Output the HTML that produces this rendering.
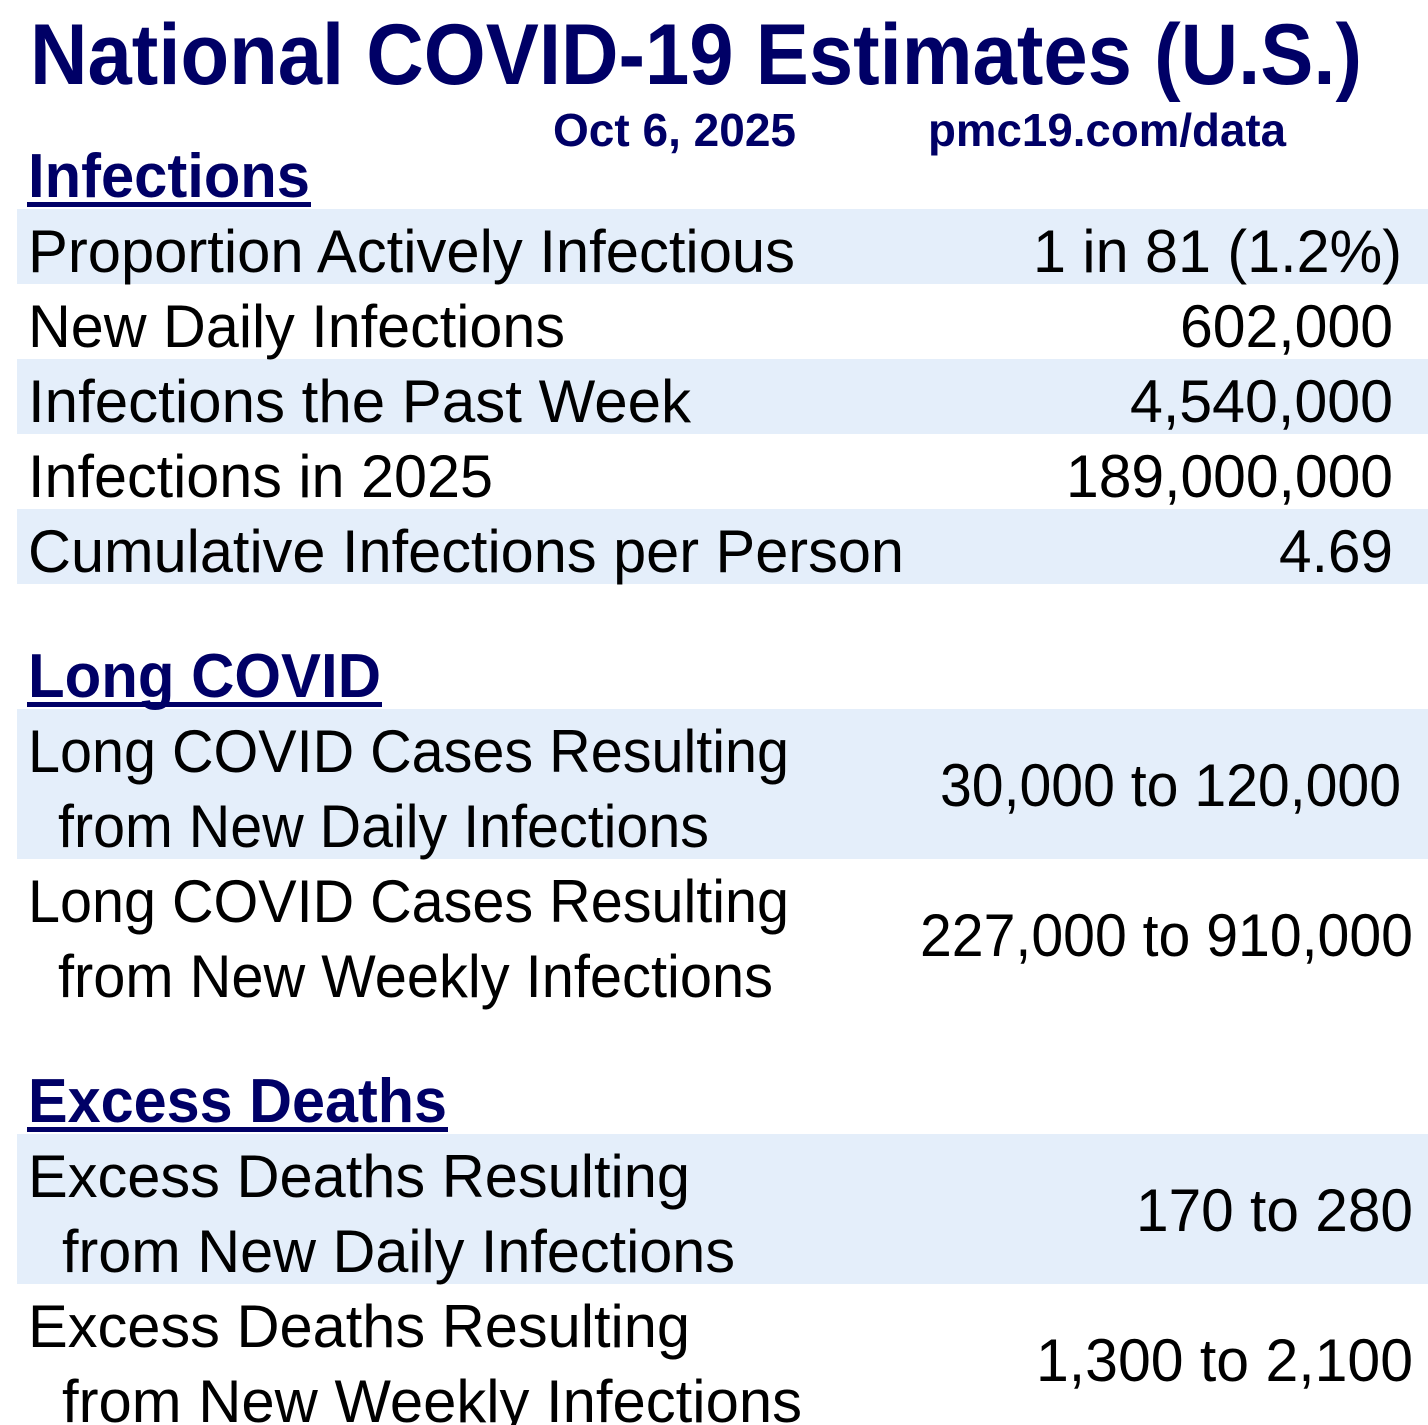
<!DOCTYPE html>
<html><head><meta charset="utf-8"><style>html,body{margin:0;padding:0;background:#fff}svg{display:block}</style></head>
<body>
<svg width="1428" height="1425" viewBox="0 0 1428 1425" xmlns="http://www.w3.org/2000/svg" font-family="Liberation Sans, Arial, sans-serif">
<g fill="#e4eefa">
<rect x="17" y="209" width="1411" height="75"/>
<rect x="17" y="359" width="1411" height="75"/>
<rect x="17" y="509" width="1411" height="75"/>
<rect x="17" y="709" width="1411" height="150"/>
<rect x="17" y="1134" width="1411" height="150"/>
</g>
<g fill="#000066" font-weight="bold">
<text x="30" y="84" font-size="86" textLength="1332" lengthAdjust="spacingAndGlyphs">National COVID-19 Estimates (U.S.)</text>
<text x="553" y="146" font-size="46" textLength="243" lengthAdjust="spacingAndGlyphs">Oct 6, 2025</text>
<text x="928" y="146" font-size="46" textLength="358" lengthAdjust="spacingAndGlyphs">pmc19.com/data</text>
<text x="28" y="197" font-size="62" textLength="282" lengthAdjust="spacingAndGlyphs">Infections</text>
<rect x="27" y="202" width="284" height="5"/>
<text x="28" y="697" font-size="62" textLength="353" lengthAdjust="spacingAndGlyphs">Long COVID</text>
<rect x="27" y="702" width="355" height="5"/>
<text x="28" y="1122" font-size="62" textLength="419" lengthAdjust="spacingAndGlyphs">Excess Deaths</text>
<rect x="27" y="1127" width="421" height="5"/>
</g>
<g fill="#000" font-size="60" lengthAdjust="spacingAndGlyphs">
<text x="28" y="272" textLength="767" lengthAdjust="spacingAndGlyphs">Proportion Actively Infectious</text>
<text x="1033" y="272" textLength="369" lengthAdjust="spacingAndGlyphs">1 in 81 (1.2%)</text>
<text x="28" y="347" textLength="537" lengthAdjust="spacingAndGlyphs">New Daily Infections</text>
<text x="1180" y="347" textLength="213" lengthAdjust="spacingAndGlyphs">602,000</text>
<text x="28" y="422" textLength="663" lengthAdjust="spacingAndGlyphs">Infections the Past Week</text>
<text x="1130" y="422" textLength="263" lengthAdjust="spacingAndGlyphs">4,540,000</text>
<text x="28" y="497" textLength="465" lengthAdjust="spacingAndGlyphs">Infections in 2025</text>
<text x="1066" y="497" textLength="327" lengthAdjust="spacingAndGlyphs">189,000,000</text>
<text x="28" y="572" textLength="876" lengthAdjust="spacingAndGlyphs">Cumulative Infections per Person</text>
<text x="1279" y="572" textLength="114" lengthAdjust="spacingAndGlyphs">4.69</text>

<text x="28" y="772" textLength="761" lengthAdjust="spacingAndGlyphs">Long COVID Cases Resulting</text>
<text x="58" y="847" textLength="651" lengthAdjust="spacingAndGlyphs">from New Daily Infections</text>
<text x="940" y="806" textLength="461" lengthAdjust="spacingAndGlyphs">30,000 to 120,000</text>
<text x="28" y="922" textLength="761" lengthAdjust="spacingAndGlyphs">Long COVID Cases Resulting</text>
<text x="58" y="997" textLength="715" lengthAdjust="spacingAndGlyphs">from New Weekly Infections</text>
<text x="920" y="956" textLength="493" lengthAdjust="spacingAndGlyphs">227,000 to 910,000</text>

<text x="28" y="1197" textLength="662" lengthAdjust="spacingAndGlyphs">Excess Deaths Resulting</text>
<text x="62" y="1272" textLength="673" lengthAdjust="spacingAndGlyphs">from New Daily Infections</text>
<text x="1136" y="1231" textLength="277" lengthAdjust="spacingAndGlyphs">170 to 280</text>
<text x="28" y="1347" textLength="662" lengthAdjust="spacingAndGlyphs">Excess Deaths Resulting</text>
<text x="62" y="1422" textLength="740" lengthAdjust="spacingAndGlyphs">from New Weekly Infections</text>
<text x="1036" y="1381" textLength="377" lengthAdjust="spacingAndGlyphs">1,300 to 2,100</text>
</g>
</svg>
</body></html>
